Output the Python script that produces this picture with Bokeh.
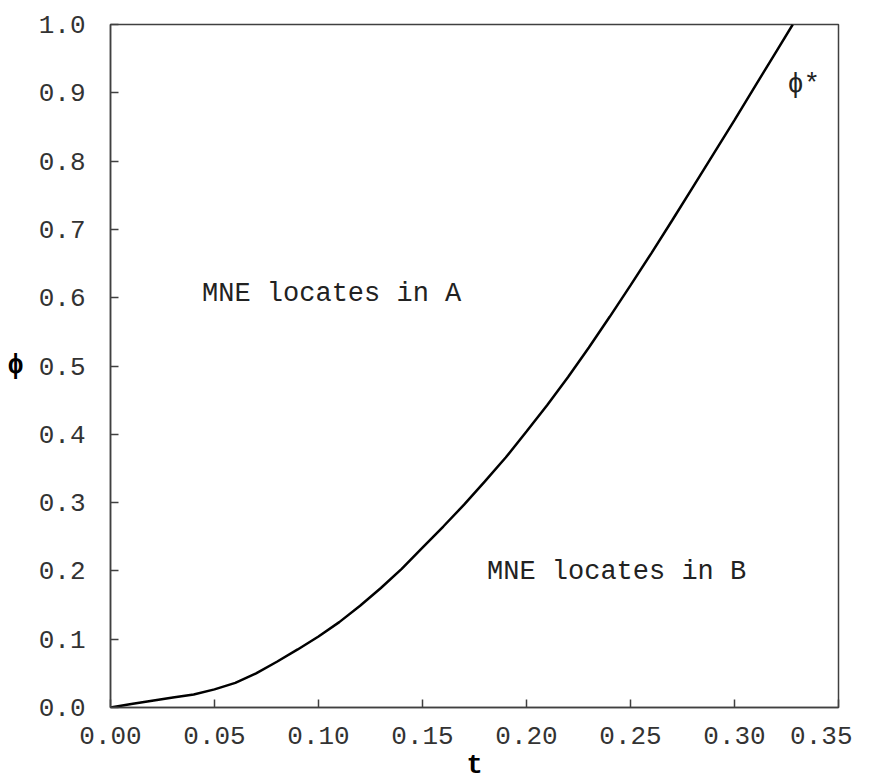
from bokeh.plotting import figure
from bokeh.models import FixedTicker, Range1d
from bokeh.core.properties import value
from bokeh.embed import file_html
from bokeh.resources import INLINE

# ---- data ----
t_vals = [0.00, 0.01, 0.02, 0.03, 0.04, 0.05, 0.06, 0.07, 0.08, 0.09,
          0.10, 0.11, 0.12, 0.13, 0.14, 0.15, 0.16, 0.17, 0.18, 0.19,
          0.20, 0.21, 0.22, 0.23, 0.24, 0.25, 0.26, 0.27, 0.28, 0.29,
          0.30, 0.31, 0.32, 0.328]
phi_vals = [0.000, 0.005, 0.010, 0.0145, 0.019, 0.0265, 0.036, 0.050, 0.067, 0.085,
            0.104, 0.125, 0.149, 0.175, 0.203, 0.234, 0.265, 0.297, 0.331, 0.366,
            0.404, 0.443, 0.484, 0.527, 0.572, 0.618, 0.665, 0.713, 0.762, 0.811,
            0.860, 0.910, 0.960, 1.000]

x_ticks = [0.00, 0.05, 0.10, 0.15, 0.20, 0.25, 0.30, 0.35]
x_tick_labels = ["0.00", "0.05", "0.10", "0.15", "0.20", "0.25", "0.30", "0.35"]
y_ticks = [0.0, 0.1, 0.2, 0.3, 0.4, 0.5, 0.6, 0.7, 0.8, 0.9, 1.0]
y_tick_labels = ["0.0", "0.1", "0.2", "0.3", "0.4", "0.5", "0.6", "0.7", "0.8", "0.9", "1.0"]

ann_x = [0.044, 0.181, 0.3255]
ann_y = [0.605, 0.198, 0.911]
ann_text = ["MNE locates in A", "MNE locates in B", "\u03d5*"]

FONT = "Liberation Mono"
FRAME = "#404040"

p = figure(frame_width=728, frame_height=683,
           min_border_left=110, min_border_right=14,
           min_border_top=24, min_border_bottom=50,
           x_range=Range1d(0, 0.35), y_range=Range1d(0, 1.0),
           output_backend="svg", toolbar_location=None,
           x_axis_label="t", y_axis_label="\u03d5")

p.background_fill_color = "white"
p.border_fill_color = "white"
p.outline_line_color = FRAME
p.outline_line_width = 1.5
p.grid.visible = False

for ax, ticks, labels in ((p.xaxis[0], x_ticks, x_tick_labels),
                          (p.yaxis[0], y_ticks, y_tick_labels)):
    ax.ticker = FixedTicker(ticks=ticks)
    ax.major_label_overrides = {tk: lb for tk, lb in zip(ticks, labels)}
    ax.major_tick_in = 8
    ax.major_tick_out = 0
    ax.minor_tick_in = 0
    ax.minor_tick_out = 0
    ax.axis_line_color = FRAME
    ax.axis_line_width = 1.5
    ax.major_tick_line_color = FRAME
    ax.major_tick_line_width = 1.5
    ax.major_label_text_font = FONT
    ax.major_label_text_font_size = "26px"
    ax.major_label_text_color = "#333333"
    ax.axis_label_text_font = FONT
    ax.axis_label_text_font_size = "27px"
    ax.axis_label_text_font_style = "bold"
    ax.axis_label_text_color = "black"

p.xaxis[0].major_label_standoff = 19
p.xaxis[0].axis_label_standoff = 4
p.yaxis[0].major_label_standoff = 25
p.yaxis[0].axis_label_standoff = 12
p.yaxis[0].axis_label_orientation = "horizontal"

p.line(t_vals, phi_vals, line_color="black", line_width=2.5)

p.text(x=ann_x, y=ann_y, text=ann_text,
       text_font=value(FONT), text_font_size="27px",
       text_align="left", text_baseline="middle", text_color="#222222")

open("out.html", "w").write(file_html(p, INLINE))
